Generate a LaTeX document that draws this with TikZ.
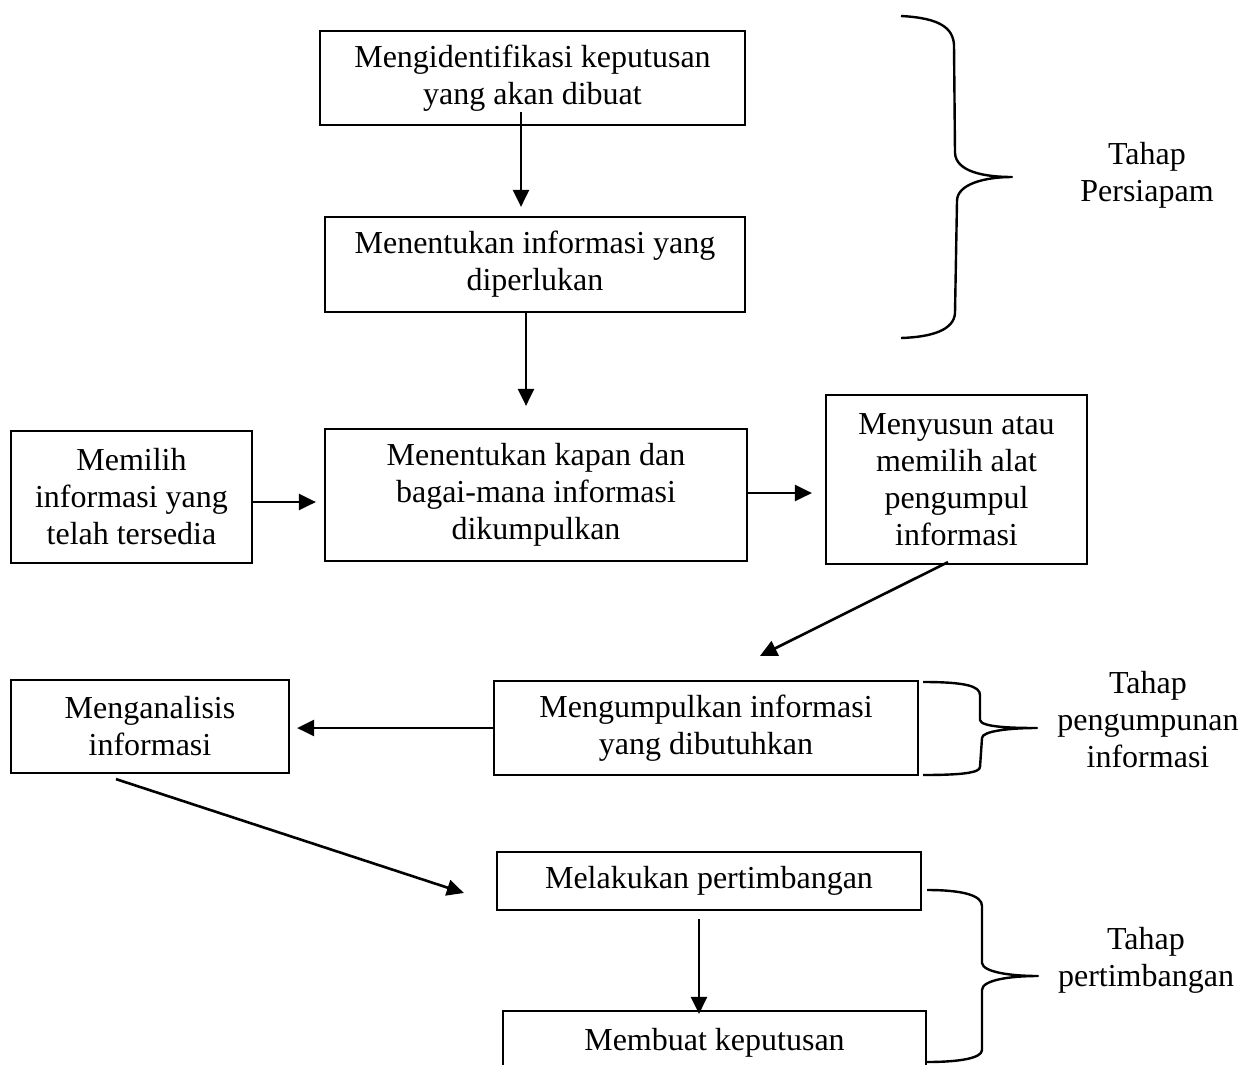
\documentclass[tikz,border=0pt]{standalone}
\usepackage{fontspec}
\setmainfont{Liberation Serif}
\usetikzlibrary{arrows.meta}

\tikzset{
    box/.style={draw, line width=2.2pt, align=center, inner sep=0pt,
        font=\fontsize{32}{37}\selectfont},
    arr/.style={line width=2.6pt, -{Triangle[length=17pt,width=16pt]}},
    brace/.style={line width=2.4pt, line join=round},
    phase/.style={align=center, font=\fontsize{32}{37}\selectfont}
}

\begin{document}
\begin{tikzpicture}[x=1pt, y=-1pt]
    \clip (0,0) rectangle (1242,1065);

    % Boxes
    \node[box, minimum width=425pt, minimum height=94pt] (ident) at (532.5,78) {Mengidentifikasi keputusan\\yang akan dibuat};
    \node[box, minimum width=420pt, minimum height=95pt] (info) at (535,264.5) {Menentukan informasi yang\\diperlukan};
    \node[box, minimum width=422pt, minimum height=132pt] (kapan) at (536,495) {Menentukan kapan dan\\bagai-mana informasi\\dikumpulkan};
    \node[box, minimum width=241pt, minimum height=132pt] (pilih) at (131.5,497) {Memilih\\informasi yang\\telah tersedia};
    \node[box, minimum width=261pt, minimum height=169pt] (alat) at (956.5,479.5) {Menyusun atau\\memilih alat\\pengumpul\\informasi};
    \node[box, minimum width=424pt, minimum height=94pt] (kumpul) at (706,728) {Mengumpulkan informasi\\yang dibutuhkan};
    \node[box, minimum width=278pt, minimum height=93pt] (analisis) at (150,726.5) {Menganalisis\\informasi};
    \node[box, minimum width=424pt, minimum height=58pt] (timbang) at (709,881) {Melakukan pertimbangan};
    \node[box, minimum width=423pt, minimum height=64pt] (putus) at (714.5,1043) {Membuat keputusan};

    % Arrows
    \draw[arr] ([xshift=-11.5pt,yshift=14pt]ident.south) -- ([xshift=-14pt,yshift=9pt]info.north);
    \draw[arr] ([xshift=-9pt]info.south) -- ([xshift=-10pt,yshift=22pt]kapan.north);
    \draw[arr, shorten >=8pt] ([yshift=-5pt]pilih.east) -- ([yshift=-5pt]pilih.east -| kapan.west);
    \draw[arr, shorten >=13pt] ([yshift=2pt]kapan.east) -- ([yshift=2pt]kapan.east -| alat.west);
    \draw[arr] ([xshift=-8.5pt,yshift=3pt]alat.south) -- ([xshift=54pt,yshift=24pt]kumpul.north);
    \draw[arr, shorten >=7pt] (kumpul.west) -- (kumpul.west -| analisis.east);
    \draw[arr] ([xshift=-34pt,yshift=-5pt]analisis.south) -- ([xshift=-32pt,yshift=-12pt]timbang.west);
    \draw[arr] ([xshift=-10pt,yshift=-8pt]timbang.south) -- ([xshift=-15.5pt,yshift=-4pt]putus.north);

    % Braces
    \draw[brace] (901,16) .. controls (940,18) and (953,28) .. (954,45) -- (955,153)
        .. controls (956,172) and (985,177) .. (1012,177)
        .. controls (985,177) and (957,184) .. (957,201) -- (955,313)
        .. controls (954,330) and (932,337) .. (901,338);
    \draw[brace] (923,682) .. controls (965,682) and (980,686) .. (980,695) -- (980,720)
        .. controls (981,727) and (1010,728) .. (1037,728)
        .. controls (1010,728) and (982,731) .. (982,738) -- (980,767)
        .. controls (980,773) and (960,775) .. (923,775);
    \draw[brace] (927,890) .. controls (965,890) and (982,896) .. (982,906) -- (982,963)
        .. controls (983,972) and (1010,976) .. (1038,976)
        .. controls (1010,976) and (982,980) .. (982,990) -- (982,1050)
        .. controls (982,1058) and (960,1062) .. (927,1062);

    % Phase labels
    \node[phase] (siap) at (1147,175) {Tahap\\Persiapam};
    \node[phase] (kumpulan) at (1148,720) {Tahap\\pengumpunan\\informasi};
    \node[phase] (pertimbangan) at (1146,960) {Tahap\\pertimbangan};
\end{tikzpicture}
\end{document}
